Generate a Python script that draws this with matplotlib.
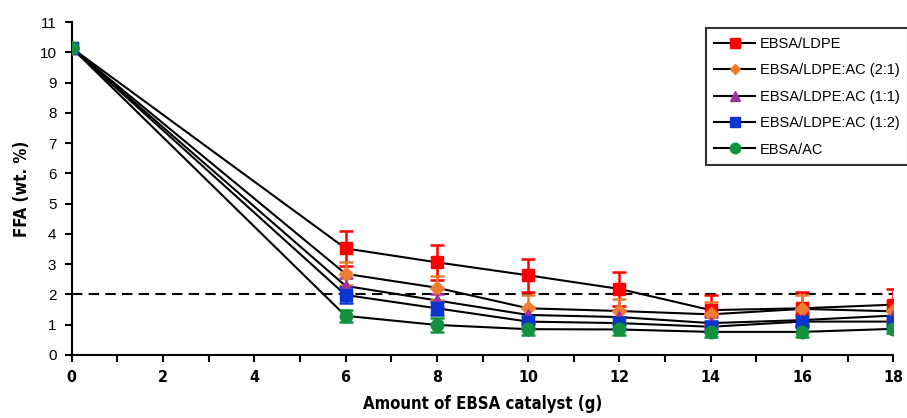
import matplotlib
matplotlib.use("Agg")
import matplotlib.pyplot as plt
from matplotlib.lines import Line2D
from matplotlib.ticker import MultipleLocator

x = [0, 6, 8, 10, 12, 14, 16, 18]
series = ["EBSA/LDPE", "EBSA/LDPE:AC (2:1)", "EBSA/LDPE:AC (1:1)", "EBSA/LDPE:AC (1:2)", "EBSA/AC"]
ldpe = [10.15, 3.52, 3.06, 2.63, 2.18, 1.48, 1.54, 1.66]
ldpe_err = [0.0, 0.57, 0.57, 0.55, 0.56, 0.50, 0.55, 0.52]
r21 = [10.15, 2.68, 2.22, 1.54, 1.45, 1.34, 1.52, 1.44]
r21_err = [0.0, 0.38, 0.40, 0.45, 0.39, 0.40, 0.45, 0.30]
r11 = [10.15, 2.28, 1.80, 1.32, 1.25, 1.05, 1.15, 1.30]
r11_err = [0.0, 0.25, 0.22, 0.25, 0.22, 0.20, 0.20, 0.20]
r12 = [10.15, 1.98, 1.54, 1.10, 1.05, 0.93, 1.10, 1.10]
r12_err = [0.0, 0.25, 0.22, 0.20, 0.20, 0.18, 0.18, 0.18]
ac = [10.15, 1.29, 0.99, 0.85, 0.84, 0.76, 0.76, 0.86]
ac_err = [0.0, 0.20, 0.22, 0.18, 0.18, 0.18, 0.18, 0.15]
threshold = 2.0

values = [ldpe, r21, r11, r12, ac]
errors = [ldpe_err, r21_err, r11_err, r12_err, ac_err]
colors = ["#FF0000", "#ED7D31", "#A0309A", "#0A35D0", "#12923F"]
markers = ["s", "D", "^", "s", "o"]
msizes = [9, 7, 8, 9, 9]

cond = dict(family="DejaVu Sans", fontstretch="condensed", fontweight="bold")

fig = plt.figure(figsize=(9.07, 4.18), dpi=100)
ax = fig.add_axes([0.079, 0.151, 0.906, 0.796])

ax.plot([0, 18], [threshold, threshold], color="black", lw=1.5, ls=(0, (5, 3)), zorder=1)

for v in values:
    ax.plot(x, v, color="black", lw=1.5, zorder=2)
for v, e, c, m, ms in zip(values, errors, colors, markers, msizes):
    ax.errorbar(x, v, yerr=e, fmt="none", ecolor=c, elinewidth=1.8, capsize=5, capthick=1.8, zorder=3)
    ax.plot(x, v, ls="none", marker=m, color=c, ms=ms, zorder=4)

ax.set_xlim(0, 18)
ax.set_ylim(0, 11)
ax.xaxis.set_major_locator(MultipleLocator(2))
ax.xaxis.set_minor_locator(MultipleLocator(1))
ax.yaxis.set_major_locator(MultipleLocator(1))
for s in ["top", "right"]:
    ax.spines[s].set_visible(False)
for s in ["left", "bottom"]:
    ax.spines[s].set_linewidth(1.5)
ax.tick_params(which="both", direction="out", length=5, width=1.5)
ax.tick_params(axis="y", labelsize=11, pad=6)
ax.tick_params(axis="x", labelsize=11.5, pad=6)
for lab in ax.get_xticklabels():
    lab.set_family("DejaVu Sans")
    lab.set_fontstretch("condensed")
    lab.set_fontweight("bold")
for lab in ax.get_yticklabels():
    lab.set_family(["Liberation Sans", "DejaVu Sans"])

ax.set_xlabel("Amount of EBSA catalyst (g)", fontsize=12, labelpad=7, **cond)
ax.set_ylabel("FFA (wt. %)", fontsize=12, labelpad=6, **cond)

handles = [Line2D([0], [0], color="black", lw=1.5, marker=m, markerfacecolor=c,
                  markeredgecolor=c, ms=ms - 1.5) for c, m, ms in zip(colors, markers, msizes)]
leg = fig.legend(handles, series, loc="upper left", bbox_to_anchor=(0.770, 0.950),
                 frameon=True, fancybox=False, edgecolor="black", handlelength=2.8,
                 handletextpad=0.3, labelspacing=0.85, borderpad=0.6,
                 prop={"family": ["Liberation Sans", "DejaVu Sans"], "size": 10.5})
leg.get_frame().set_linewidth(1.5)

fig.savefig("out.png", dpi=100)
